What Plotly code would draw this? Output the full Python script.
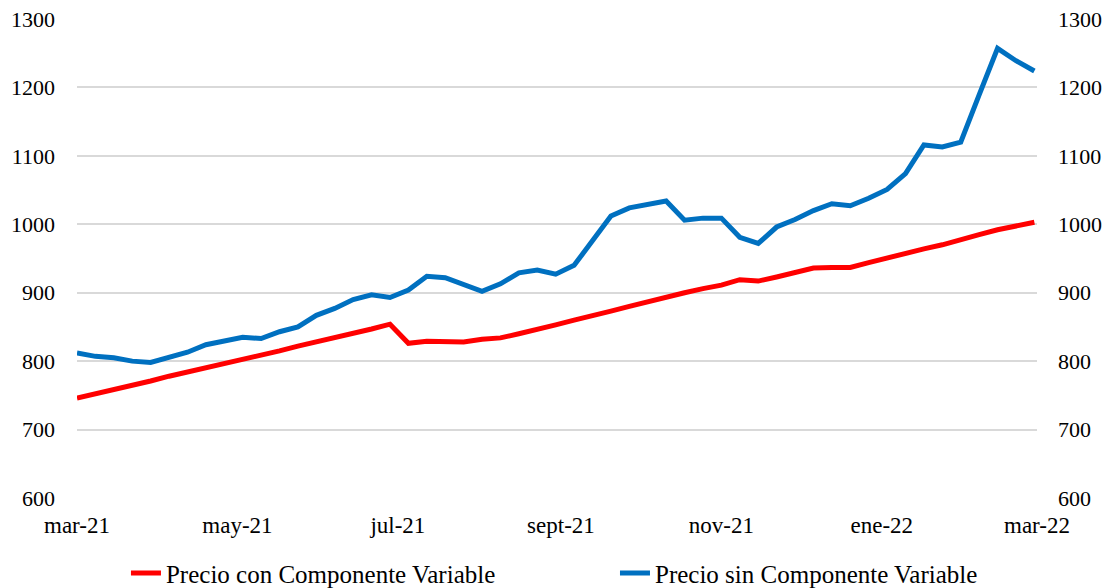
import plotly.graph_objects as go
import pandas as pd

dates = pd.date_range("2021-03-01", periods=53, freq="7D")

precio_con = [746, 752, 758, 765, 771, 778, 784, 790, 796, 803, 809, 815, 822, 828, 835, 841, 847, 854,
              826, 829, 828, 828, 832, 834, 840, 846, 853, 860, 866, 873, 880, 887, 893, 900, 906, 911,
              919, 917, 923, 929, 936, 937, 937, 944, 951, 958, 964, 970, 978, 985, 992, 997, 1003]

precio_sin = [812, 807, 805, 800, 798, 805, 813, 824, 830, 835, 833, 843, 850, 867, 877, 890, 897, 893,
              904, 924, 922, 912, 902, 913, 929, 933, 927, 940, 977, 1012, 1024, 1029, 1034, 1006, 1009, 1009,
              981, 972, 996, 1007, 1020, 1030, 1027, 1038, 1051, 1074, 1116, 1113, 1120, 1189, 1257, 1239, 1224]

tick_dates = ["2021-03-01", "2021-05-01", "2021-07-01", "2021-09-01", "2021-11-01", "2022-01-01", "2022-03-01"]
tick_labels = ["mar-21", "may-21", "jul-21", "sept-21", "nov-21", "ene-22", "mar-22"]
y_ticks = [600, 700, 800, 900, 1000, 1100, 1200, 1300]

FONT = "Liberation Serif"

fig = go.Figure()
fig.add_trace(go.Scatter(x=dates, y=precio_con, mode="lines", name="Precio con Componente Variable",
                         line=dict(color="#ff0000", width=5), legend="legend"))
fig.add_trace(go.Scatter(x=dates, y=precio_sin, mode="lines", name="Precio sin Componente Variable",
                         line=dict(color="#0070c0", width=5), legend="legend2"))

legend_style = dict(orientation="h", xanchor="left", y=-0.157, yanchor="middle",
                    font=dict(family=FONT, size=25, color="#000000"), bgcolor="rgba(0,0,0,0)")

fig.update_layout(
    width=1113, height=588,
    margin=dict(l=77, r=76, t=19, b=90, autoexpand=False),
    paper_bgcolor="white", plot_bgcolor="white",
    font=dict(family=FONT, size=22, color="#000000"),
    showlegend=True,
    legend=dict(x=0.051, **legend_style),
    legend2=dict(x=0.5604, **legend_style),
    xaxis=dict(type="date", range=["2021-03-01", "2022-03-01"], tickmode="array",
               tickvals=tick_dates, ticktext=tick_labels, showgrid=False, zeroline=False,
               showline=False, ticks="", ticklabelstandoff=11, automargin=False,
               tickfont=dict(family=FONT, size=23, color="#000000")),
    yaxis=dict(range=[600, 1300], tickmode="array", tickvals=y_ticks, showgrid=True,
               gridcolor="#d9d9d9", gridwidth=1.5, zeroline=False, showline=False,
               ticks="", ticklabelstandoff=21, automargin=False),
    yaxis2=dict(range=[600, 1300], tickmode="array", tickvals=y_ticks, overlaying="y", side="right",
                showgrid=False, zeroline=False, showline=False, ticks="", ticklabelstandoff=20,
                matches="y", automargin=False),
)
fig.add_trace(go.Scatter(x=[dates[0]], y=[precio_con[0]], yaxis="y2", mode="lines", showlegend=False,
                         hoverinfo="skip", line=dict(color="rgba(0,0,0,0)")))

fig.write_html("out.html", config={"displayModeBar": False},
               post_script="document.body.style.margin='0px';")
